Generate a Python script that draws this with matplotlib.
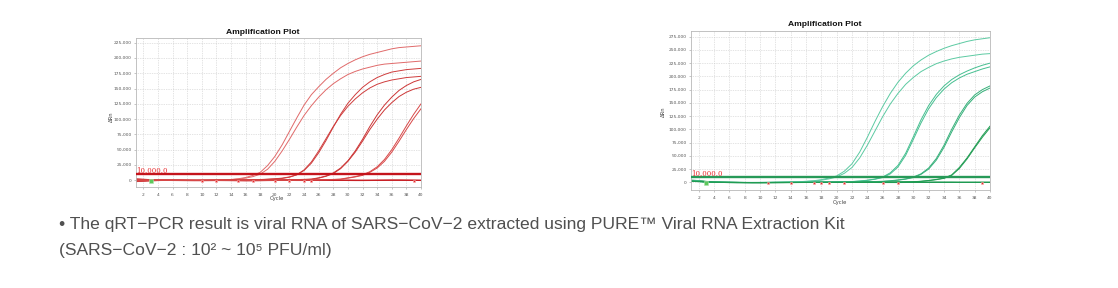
import matplotlib
matplotlib.use("Agg")
import matplotlib.pyplot as plt
from matplotlib.ticker import FuncFormatter, MultipleLocator

# ---------------------------------------------------------------- data
# Cycle numbers and delta-Rn readings (in thousands) for each well.
cycles = list(range(1, 41))

# Left run (red wells): four dilution pairs + negative wells
red_1a = [1.8, 1.2, 0.6, 0.2, 0.0, -0.1, -0.2, -0.2, -0.1, 0.0, 0.1, 0.3,
          0.7, 1.3, 2.5, 4.5, 8, 13, 24, 39, 58, 80, 102, 123, 140, 153,
          165, 175, 184, 191, 197, 202, 206, 209, 212, 215, 217, 218, 219, 220]
red_1b = [-1.2, -0.8, -0.3, 0.0, 0.1, 0.1, 0.0, -0.1, -0.1, 0.0, 0.1, 0.2,
          0.5, 1.0, 2.0, 3.5, 6, 10, 18, 31, 48, 67, 87, 106, 122, 136,
          148, 158, 166, 173, 178, 182, 185, 188, 190, 191, 192, 193, 194, 195]
red_2a = [1.5, 1.0, 0.4, 0.1, 0.0, -0.1, -0.2, -0.3, -0.3, -0.2, -0.1, 0.0,
          0.1, 0.2, 0.3, 0.5, 0.8, 1.2, 1.8, 2.5, 3.5, 5.5, 9, 16, 28, 45,
          65, 87, 108, 126, 140, 152, 161, 168, 173, 177, 179, 181, 182, 183]
red_2b = [-1.5, -1.0, -0.5, -0.2, 0.0, 0.0, -0.1, -0.2, -0.2, -0.1, 0.0, 0.0,
          0.1, 0.1, 0.2, 0.4, 0.6, 1.0, 1.5, 2.2, 3, 5, 9, 17, 30, 48,
          68, 88, 106, 121, 133, 143, 151, 157, 161, 164, 166, 168, 169, 170]
red_3a = [1.0, 0.6, 0.2, 0.0, -0.1, -0.2, -0.3, -0.4, -0.4, -0.3, -0.2, -0.1,
          0.0, 0.0, 0.1, 0.1, 0.2, 0.2, 0.3, 0.4, 0.6, 0.8, 1.1, 1.5, 2, 4,
          7, 12, 20, 32, 48, 67, 88, 107, 123, 136, 147, 155, 161, 165]
red_3b = [-1.0, -0.6, -0.3, -0.1, 0.0, 0.1, 0.1, 0.0, -0.1, -0.2, -0.2, -0.1,
          0.0, 0.0, 0.1, 0.1, 0.1, 0.2, 0.2, 0.3, 0.4, 0.6, 0.8, 1.1, 1.5, 3.5,
          6.5, 11, 19, 31, 46, 64, 83, 100, 115, 127, 137, 144, 149, 152]
red_4a = [0.8, 0.5, 0.2, 0.0, -0.1, -0.2, -0.2, -0.3, -0.3, -0.2, -0.2, -0.1,
          -0.1, 0.0, 0.0, 0.0, 0.1, 0.1, 0.1, 0.2, 0.2, 0.3, 0.4, 0.5, 0.6, 0.8,
          1.0, 1.4, 2, 4, 6, 9, 14, 22, 34, 50, 69, 89, 108, 125]
red_4b = [-0.8, -0.5, -0.2, 0.0, 0.1, 0.1, 0.0, -0.1, -0.1, -0.1, 0.0, 0.0,
          0.0, 0.1, 0.1, 0.1, 0.1, 0.1, 0.2, 0.2, 0.2, 0.3, 0.3, 0.4, 0.5, 0.7,
          0.9, 1.2, 1.5, 3.5, 5.5, 8, 13, 20, 31, 46, 64, 83, 101, 117]
red_neg_a = [2.2, 1.5, 0.8, 0.3, 0.0, -0.2, -0.3, -0.4, -0.5, -0.5,
             -0.4, -0.3, -0.3, -0.4, -0.6, -0.8, -0.7, -0.5, -0.3, -0.2,
             -0.1, 0.0, 0.1, 0.1, 0.2, 0.2, 0.1, 0.0, -0.1, -0.2,
             -0.3, -0.3, -0.2, -0.1, 0.0, 0.1, 0.1, 0.0, -0.1, -0.2]
red_neg_b = [-2.0, -1.4, -0.8, -0.3, 0.0, 0.2, 0.3, 0.3, 0.2, 0.1,
             0.0, -0.1, -0.2, -0.2, -0.1, 0.0, 0.1, 0.2, 0.2, 0.1,
             0.0, -0.1, -0.2, -0.2, -0.1, 0.0, 0.1, 0.2, 0.2, 0.1,
             0.0, -0.1, -0.1, 0.0, 0.1, 0.2, 0.2, 0.1, 0.0, -0.1]
red_flag_cycles = [10, 12, 15, 17, 20, 22, 24, 25, 39]

# Right run (green wells)
green_1a = [3.5, 2.5, 1.2, 0.4, 0.0, -0.2, -0.3, -0.4, -0.4, -0.3, -0.2, 0.0,
            0.2, 0.5, 1.0, 2, 3, 5, 8, 12, 21, 35, 57, 85, 115, 143,
            168, 189, 206, 220, 231, 240, 247, 253, 258, 262, 266, 269, 271, 273]
green_1b = [2.8, 2.0, 1.0, 0.3, 0.0, -0.1, -0.2, -0.3, -0.3, -0.2, -0.1, 0.0,
            0.1, 0.4, 0.8, 1.5, 2.5, 4, 6.5, 10, 17, 28, 46, 70, 97, 124,
            148, 168, 185, 198, 209, 217, 224, 229, 233, 236, 238, 240, 242, 243]
green_2a = [3.0, 2.2, 1.0, 0.3, 0.0, -0.2, -0.3, -0.4, -0.4, -0.4, -0.3, -0.2,
            -0.1, 0.0, 0.0, 0.1, 0.2, 0.3, 0.5, 0.7, 1.0, 1.5, 2.5, 4, 6.2, 10,
            18, 32, 55, 86, 118, 145, 166, 182, 194, 203, 210, 216, 221, 225]
green_2b = [2.5, 1.8, 0.8, 0.2, 0.0, -0.1, -0.2, -0.3, -0.3, -0.3, -0.2, -0.1,
            0.0, 0.0, 0.0, 0.1, 0.2, 0.3, 0.4, 0.6, 0.9, 1.3, 2.2, 3.6, 5.8, 9,
            16, 29, 51, 81, 112, 139, 160, 176, 188, 197, 204, 209, 214, 218]
green_3a = [2.0, 1.4, 0.7, 0.2, 0.0, -0.1, -0.2, -0.3, -0.3, -0.3, -0.3, -0.2,
            -0.2, -0.1, -0.1, 0.0, 0.0, 0.1, 0.2, 0.3, 0.4, 0.6, 0.8, 1.1, 1.5, 2,
            3, 4.5, 6.5, 10, 16, 27, 45, 70, 100, 127, 149, 165, 175, 182]
green_3b = [1.8, 1.2, 0.5, 0.1, 0.0, -0.1, -0.1, -0.2, -0.2, -0.2, -0.2, -0.1,
            -0.1, 0.0, 0.0, 0.0, 0.1, 0.1, 0.2, 0.3, 0.4, 0.5, 0.7, 0.9, 1.2, 1.5,
            2.5, 4, 6, 9, 15, 25, 42, 66, 95, 122, 145, 161, 171, 178]
green_4a = [2.5, 1.8, 0.9, 0.3, 0.0, -0.2, -0.3, -0.4, -0.5, -0.5, -0.5, -0.4,
            -0.4, -0.3, -0.3, -0.2, -0.2, -0.1, -0.1, 0.0, 0.0, 0.1, 0.1, 0.2, 0.3, 0.4,
            0.5, 0.7, 0.9, 1.2, 2, 3.5, 5.5, 8, 14, 28, 46, 67, 88, 106]
green_4b = [2.2, 1.5, 0.7, 0.2, 0.0, -0.1, -0.2, -0.3, -0.4, -0.4, -0.4, -0.4,
            -0.3, -0.3, -0.2, -0.2, -0.1, -0.1, 0.0, 0.0, 0.0, 0.1, 0.1, 0.2, 0.2, 0.3,
            0.4, 0.6, 0.8, 1.0, 1.8, 3.2, 5, 7.5, 13, 26, 44, 65, 85, 103]
green_neg_a = [4.0, 3.0, 1.5, 0.5, 0.0, -0.3, -0.5, -0.6, -0.7, -0.7,
               -0.6, -0.5, -0.4, -0.3, -0.2, -0.1, 0.0, 0.0, 0.1, 0.1,
               0.1, 0.0, 0.0, -0.1, -0.1, -0.2, -0.2, -0.2, -0.1, -0.1,
               0.0, 0.0, 0.1, 0.1, 0.1, 0.0, 0.0, -0.1, -0.1, -0.1]
green_neg_b = [3.2, 2.4, 1.2, 0.4, 0.0, -0.2, -0.4, -0.5, -0.6, -0.6,
               -0.5, -0.4, -0.3, -0.2, -0.1, 0.0, 0.0, 0.1, 0.1, 0.2,
               0.2, 0.1, 0.1, 0.0, 0.0, -0.1, -0.1, -0.1, 0.0, 0.0,
               0.1, 0.1, 0.1, 0.0, 0.0, -0.1, -0.1, 0.0, 0.0, 0.0]
green_flag_cycles = [11, 14, 17, 18, 19, 21, 26, 28, 39]

threshold = 10000
threshold_label = "10,000.0"
flag_level = -1.0          # thousands, just under the baseline
start_flag_cycle = 3
UNIT = 1000

caption_1 = "\u2022 The qRT\u2212PCR result is viral RNA of SARS\u2212CoV\u22122 extracted using PURE\u2122 Viral RNA Extraction Kit"
caption_2 = "(SARS\u2212CoV\u22122 : 10\u00b2 ~ 10\u2075 PFU/ml)"

# ---------------------------------------------------------------- styling
W, H = 1118, 288
fig = plt.figure(figsize=(W / 100, H / 100), dpi=100)
fig.patch.set_facecolor("white")

def px_axes(l, t, r, b):
    return fig.add_axes([l / W, 1 - b / H, (r - l) / W, (b - t) / H])

def style_axes(ax, ylim, ystep):
    ax.set_xlim(1, 40)
    ax.set_ylim(*ylim)
    ax.xaxis.set_major_locator(MultipleLocator(2))
    ax.yaxis.set_major_locator(MultipleLocator(ystep))
    ax.yaxis.set_major_formatter(FuncFormatter(lambda v, p: f"{int(v):,}"))
    ax.grid(True, color="#c8c8c8", linestyle=(0, (1, 1.5)), linewidth=0.5)
    ax.set_axisbelow(True)
    for s in ax.spines.values():
        s.set_color("#b8b8b8")
        s.set_linewidth(0.6)
    ax.tick_params(axis="both", length=1.5, width=0.4, color="#999999",
                   labelsize=3.2, labelcolor="#555555", pad=1.5)
    ax.tick_params(axis="x", pad=2.5)

def draw_run(ax, wells, negs, well_colors, neg_color, thr_color, flags, flag_color):
    for w in negs:
        ax.plot(cycles, [v * UNIT for v in w], color=neg_color, lw=0.9)
    for w, c in zip(wells, well_colors):
        ax.plot(cycles, [v * UNIT for v in w], color=c, lw=0.7)
    ax.axhline(threshold, color=thr_color, lw=1.7, zorder=3)
    ax.plot(flags, [flag_level * UNIT] * len(flags), ls="none", marker="s",
            ms=2.0, mfc=flag_color, mec="#f4b0b0", mew=0.4, zorder=4)
    ax.plot([start_flag_cycle], [flag_level * UNIT], ls="none", marker="s",
            ms=2.2, mfc="#5cc85c", mec="#b0e0b0", mew=0.4, zorder=4)
    ax.text(1.05, threshold + 600, threshold_label, color="#e8282a", fontsize=5.0,
            family="DejaVu Serif", va="bottom", ha="left", zorder=5)

# ---------------------------------------------------------------- left run
axL = px_axes(136, 38, 421, 187)
style_axes(axL, (-11000, 232700), 25000)
red_wells = [red_1a, red_1b, red_2a, red_2b, red_3a, red_3b, red_4a, red_4b]
red_cols = ["#e06a6a", "#e06a6a", "#cf3d3d", "#cf3d3d",
            "#cc3535", "#cc3535", "#d84848", "#d84848"]
draw_run(axL, red_wells, [red_neg_a, red_neg_b], red_cols, "#c81e24",
         "#c4141c", red_flag_cycles, "#e8282a")

# ---------------------------------------------------------------- right run
axR = px_axes(691, 31, 990, 190)
style_axes(axR, (-14500, 285700), 25000)
green_wells = [green_1a, green_1b, green_2a, green_2b,
               green_3a, green_3b, green_4a, green_4b]
green_cols = ["#5ccaa2", "#5ccaa2", "#45bf90", "#45bf90",
              "#36b07a", "#36b07a", "#1f9c52", "#1f9c52"]
draw_run(axR, green_wells, [green_neg_a, green_neg_b], green_cols, "#1f9a52",
         "#279a58", green_flag_cycles, "#e8282a")

# ---------------------------------------------------------------- labels
title_kw = dict(fontsize=6.1, fontweight="bold", ha="center", va="center",
                family=["Liberation Sans", "DejaVu Sans"], color="#111111")
fig.text(263 / W, 1 - 32.5 / H, "Amplification Plot", **title_kw)
fig.text(825 / W, 1 - 24 / H, "Amplification Plot", **title_kw)

lab_kw = dict(fontsize=3.8, color="#444444", ha="center", va="center")
fig.text(111 / W, 1 - 117 / H, "\u0394Rn", rotation=90, **lab_kw)
fig.text(663 / W, 1 - 112 / H, "\u0394Rn", rotation=90, **lab_kw)
fig.text(277 / W, 1 - 198.5 / H, "Cycle", **lab_kw)
fig.text(840 / W, 1 - 202.5 / H, "Cycle", **lab_kw)

cap_kw = dict(fontsize=12.6, color="#505050", ha="left", va="baseline",
              family=["Liberation Sans", "DejaVu Sans"])
fig.text(59 / W, 1 - 229 / H, caption_1, **cap_kw)
fig.text(59 / W, 1 - 255 / H, caption_2, **cap_kw)

fig.savefig("out.png", dpi=100, facecolor="white")
